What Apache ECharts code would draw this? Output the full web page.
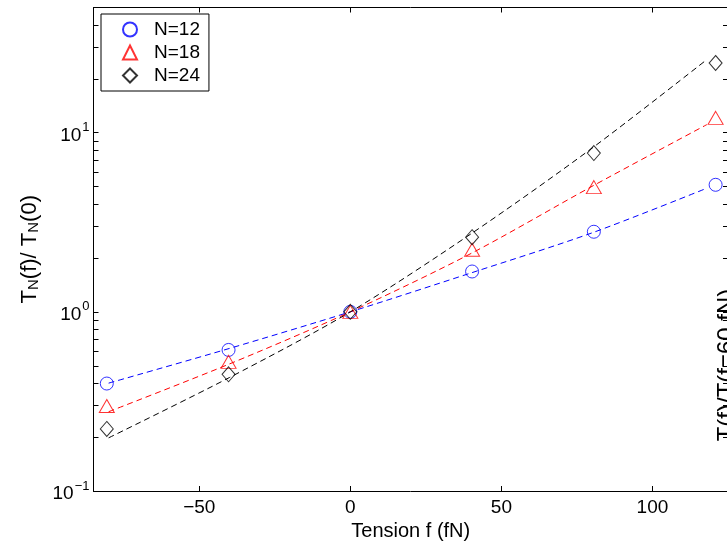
<!DOCTYPE html>
<html><head><meta charset="utf-8">
<script src="https://cdn.jsdelivr.net/npm/echarts@6/dist/echarts.min.js"></script>
<style>html,body{margin:0;padding:0;background:#fff}#c{width:727px;height:542px}</style>
</head><body><div id="c"></div>
<script>
const seriesNames = ['N=12', 'N=18', 'N=24'];
const seriesColors = ['#0000ff', '#ff0000', '#000000'];
const tensionPoints = [-80.6, -40.3, 0, 40.3, 80.6, 120.9];
const ratioN12 = [0.398, 0.613, 1, 1.68, 2.8, 5.12];
const ratioN18 = [0.298, 0.526, 1, 2.22, 4.97, 12.1];
const ratioN24 = [0.222, 0.448, 1, 2.61, 7.7, 24.5];
const fitTension = [-80, -40, 0, 40, 80, 118];
const fitN12 = [0.40, 0.625, 1, 1.65, 2.76, 4.9];
const fitN18 = [0.277, 0.512, 1, 2.12, 5.02, 11.1];
const fitN24 = [0.198, 0.43, 1, 2.73, 8.2, 25.6];
const xTicks = [-50, 0, 50, 100];
const yLabelTicks = [0.1, 1, 10];
const yAllTicks = [0.1, 0.2, 0.3, 0.4, 0.5, 0.6, 0.7, 0.8, 0.9, 1, 2, 3, 4, 5, 6, 7, 8, 9, 10, 20, 30, 40, 50];
const xRange = [-85, 125];
const yRange = [0.1, 50];
const rightLabel = 'T(f)/T(f=60 fN)';

const FONT = 'Liberation Sans, Arial, Helvetica, sans-serif';
const pair = (xs, ys) => xs.map((x, i) => [x, ys[i]]);
const ratios = [ratioN12, ratioN18, ratioN24];
const fits = [fitN12, fitN18, fitN24];
const symbols = ['circle', 'triangle', 'diamond'];
const symbolSizes = [13, [15, 13], [13, 15]];

const series = [];
fits.forEach((f, i) => {
  series.push({
    type: 'line', name: seriesNames[i] + ' fit', data: pair(fitTension, f),
    xAxisIndex: 0, yAxisIndex: 0, smooth: 0.3, showSymbol: false, symbol: 'none',
    lineStyle: { color: seriesColors[i], width: 1, type: [6, 4] }, silent: true, z: 2
  });
});
ratios.forEach((r, i) => {
  series.push({
    type: 'scatter', name: seriesNames[i], data: pair(tensionPoints, r),
    xAxisIndex: 0, yAxisIndex: 0, symbol: symbols[i], symbolSize: symbolSizes[i],
    itemStyle: { color: 'rgba(0,0,0,0)', borderColor: seriesColors[i], borderWidth: 1 }, z: 3
  });
});

const supFmt = v => {
  const e = Math.round(Math.log10(v));
  return '{b|10}{s|' + (e < 0 ? '\u2212' + (-e) : e) + '}';
};

const axisLineStyle = { color: '#000', width: 1 };
const option = {
  animation: false,
  backgroundColor: '#fff',
  grid: { left: 93.5, top: 7.5, right: -1, bottom: 51, containLabel: false, outerBoundsMode: 'none' },
  legend: {
    orient: 'vertical', left: 101, top: 14,
    data: seriesNames,
    itemWidth: 14, itemHeight: 14, itemGap: 4,
    padding: [6, 9, 6, 21],
    borderColor: '#000', borderWidth: 1, backgroundColor: '#fff',
    textStyle: { fontFamily: FONT, fontSize: 19, color: '#000', padding: [0, 0, 0, 12] }
  },
  xAxis: [{
    type: 'value', min: xRange[0], max: xRange[1], position: 'bottom',
    axisLine: { show: true, onZero: false, lineStyle: axisLineStyle },
    axisTick: { show: true, inside: true, length: 5, customValues: xTicks, lineStyle: axisLineStyle },
    axisLabel: { customValues: xTicks, margin: 7, fontFamily: FONT, fontSize: 19, color: '#000',
      formatter: v => String(v).replace('-', '\u2212') },
    splitLine: { show: false },
    name: 'Tension f (fN)', nameLocation: 'middle', nameGap: 29,
    nameTextStyle: { fontFamily: FONT, fontSize: 20, color: '#000' }
  }, {
    type: 'value', min: xRange[0], max: xRange[1], position: 'top',
    axisLine: { show: true, onZero: false, lineStyle: axisLineStyle },
    axisTick: { show: true, inside: true, length: 5, customValues: xTicks, lineStyle: axisLineStyle },
    axisLabel: { show: false }, splitLine: { show: false }
  }],
  yAxis: [{
    type: 'log', logBase: 10, min: yRange[0], max: yRange[1], position: 'left',
    axisLine: { show: true, onZero: false, lineStyle: axisLineStyle },
    axisTick: { show: true, inside: true, length: 5, customValues: yAllTicks, lineStyle: axisLineStyle },
    axisLabel: { customValues: yLabelTicks, margin: 4, formatter: supFmt, color: '#000',
      rich: {
        b: { fontFamily: FONT, fontSize: 19, color: '#000', padding: [6, 0, 0, 0] },
        s: { fontFamily: FONT, fontSize: 13, color: '#000', verticalAlign: 'bottom', padding: [0, 0, 11, 1] }
      } },
    splitLine: { show: false },
    name: '{i|T}{sub|N}{i|(f)/ T}{sub|N}{i|(0)}', nameLocation: 'middle', nameGap: 50, nameRotate: 90,
    nameTextStyle: {
      rich: {
        i: { fontFamily: FONT, fontSize: 22, color: '#000' },
        sub: { fontFamily: FONT, fontSize: 15, color: '#000', verticalAlign: 'bottom', padding: [8, 0, 0, 0] }
      }
    }
  }, {
    type: 'log', logBase: 10, min: yRange[0], max: yRange[1], position: 'right',
    axisLine: { show: true, onZero: false, lineStyle: axisLineStyle },
    axisTick: { show: true, inside: true, length: 5, customValues: yAllTicks, lineStyle: axisLineStyle },
    axisLabel: { show: false }, splitLine: { show: false }
  }],
  graphic: [{
    type: 'text', x: 727, y: 365, rotation: Math.PI / 2,
    style: { text: rightLabel, fontFamily: FONT, fontSize: 24, fill: '#000', align: 'center', verticalAlign: 'middle' },
    z: 10
  }],
  series
};
const chart = echarts.init(document.getElementById('c'), null, { renderer: 'canvas' });
chart.setOption(option);
</script>
</body></html>
